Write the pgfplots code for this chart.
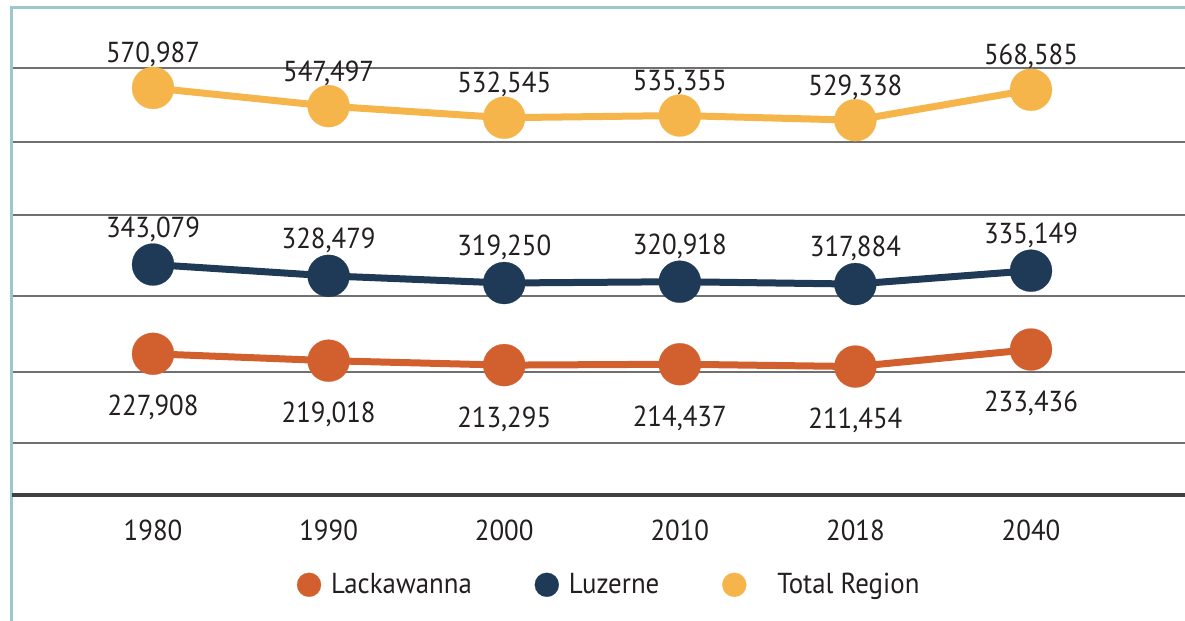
\documentclass[border=0pt]{standalone}
\usepackage{pgfplots}
\pgfplotsset{compat=1.18}
\usepackage{fontspec}
\setmainfont{PT Sans}[FakeStretch=0.93]
\definecolor{cLack}{HTML}{D2602F}
\definecolor{cLuz}{HTML}{1E3A56}
\definecolor{cTot}{HTML}{F5B54A}
\definecolor{cFrame}{HTML}{9CC8CC}
\definecolor{cGrid}{HTML}{707070}
\definecolor{cAxis}{HTML}{404040}
\definecolor{cText}{HTML}{231F20}
\newcommand{\lblfont}{\fontsize{14.5}{17}\selectfont}
\begin{document}
\begin{tikzpicture}
\useasboundingbox (-6bp,-63bp) rectangle (586.5bp,247.5bp);
\begin{axis}[
  at={(0,0)}, anchor=south west,
  scale only axis, width=586.5bp, height=244bp,
  xmin=-0.803, xmax=5.877, ymin=45700, ymax=675400,
  axis line style={draw=none},
  major tick length=0pt,
  xtick={0,1,2,3,4,5},
  xticklabels={1980,1990,2000,2010,2018,2040},
  xticklabel style={font=\lblfont, text=cText, anchor=north, inner sep=0pt, yshift=-12.5bp},
  ytick={112800,204400,302500,407000,501200,596700},
  scaled y ticks=false,
  yticklabel=\empty,
  ymajorgrids, grid style={cGrid, line width=0.75bp},
  clip=false,
  point meta=explicit symbolic,
  legend columns=3,
  legend style={at={(0.51,-0.184)}, anchor=center, draw=none, fill=none,
    font=\lblfont, text=cText, column sep=0pt,
    /tikz/every odd column/.append style={column sep=3bp},
    /tikz/every even column/.append style={column sep=29.5bp}},
  legend image code/.code={\draw[#1, mark size=6bp] plot coordinates {(0bp,0bp)};},
]
\addplot[cLack, line width=3.5bp, mark=*, mark size=10.5bp, mark options={solid, line width=0.1bp},
  nodes near coords, nodes near coords style={font=\lblfont, text=cText, anchor=base, inner sep=0pt, yshift=-31bp}]
  table[x=x, y=y, meta=lab] {
x y lab
0 227908 227,908
1 219018 219,018
2 213295 213,295
3 214437 214,437
4 211454 211,454
5 233436 233,436
};
\addlegendentry{Lackawanna}
\addplot[cLuz, line width=3.5bp, mark=*, mark size=10.5bp, mark options={solid, line width=0.1bp},
  nodes near coords, nodes near coords style={font=\lblfont, text=cText, anchor=base, inner sep=0pt, yshift=13.6bp}]
  table[x=x, y=y, meta=lab] {
x y lab
0 343079 343,079
1 328479 328,479
2 319250 319,250
3 320918 320,918
4 317884 317,884
5 335149 335,149
};
\addlegendentry{Luzerne}
\addplot[cTot, line width=3.5bp, mark=*, mark size=10.5bp, mark options={solid, line width=0.1bp},
  nodes near coords, nodes near coords style={font=\lblfont, text=cText, anchor=base, inner sep=0pt, yshift=12.5bp}]
  table[x=x, y=y, meta=lab] {
x y lab
0 570987 570,987
1 547497 547,497
2 532545 532,545
3 535355 535,355
4 529338 529,338
5 568585 568,585
};
\addlegendentry{\hspace{10.5bp}Total Region}
\draw[cFrame, line width=1.5bp] (rel axis cs:0,-0.27) -- (rel axis cs:0,1) -- (rel axis cs:1.01,1);
\draw[cAxis, line width=2bp] (rel axis cs:0,0) -- (rel axis cs:1,0);
\end{axis}
\end{tikzpicture}
\end{document}
